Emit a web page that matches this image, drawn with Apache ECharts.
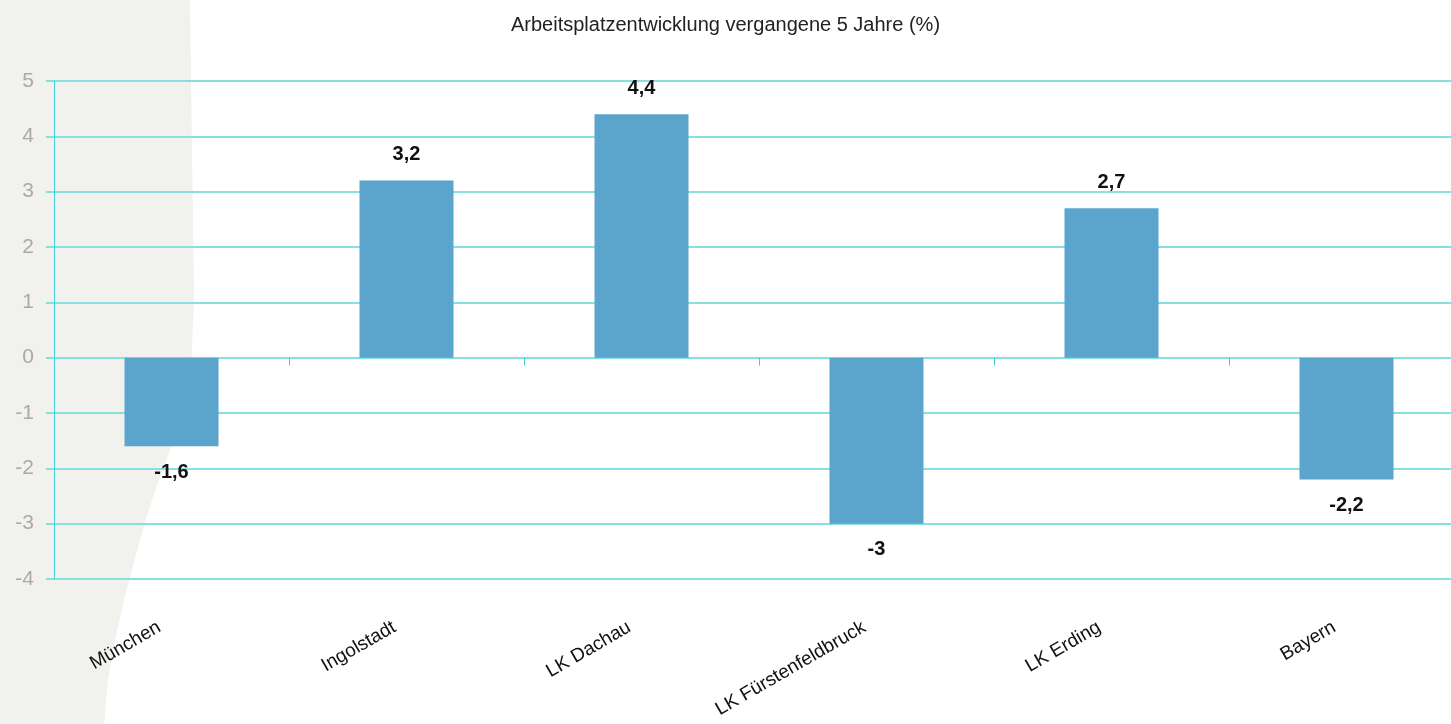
<!DOCTYPE html>
<html lang="de">

<head>
    <meta charset="UTF-8" />
    <title>Arbeitsplatzentwicklung</title>
    <script src="https://cdn.jsdelivr.net/npm/echarts@6/dist/echarts.min.js"></script>
    <style>
        html, body { margin: 0; padding: 0; background: #fff; }
        #chart { width: 1451px; height: 724px; }
    </style>
</head>

<body>
    <div id="chart"></div>
    <script>
        // Daten
        var regionen = ["München", "Ingolstadt", "LK Dachau", "LK Fürstenfeldbruck", "LK Erding", "Bayern"];
        var werte = [-1.6, 3.2, 4.4, -3, 2.7, -2.2];
        var titel = "Arbeitsplatzentwicklung vergangene 5 Jahre (%)";

        var schmal = "'Liberation Sans Narrow', 'Arial Narrow', 'Liberation Sans', Arial, sans-serif";
        var linie = "#86e0e0";

        var myChart = echarts.init(document.getElementById("chart"));
        var option = {
            backgroundColor: "#fff",
            animation: false,
            // grauer Hintergrund links
            graphic: [{
                type: "polygon",
                z: -10,
                silent: true,
                shape: {
                    points: [[0, 0], [190, 0], [192, 150], [194, 300], [191, 370], [183, 415], [170, 450],
                        [156, 488], [145, 522], [134, 562], [124, 600], [115, 640], [108, 680], [104, 724], [0, 724]]
                },
                style: { fill: "#f1f2ee" }
            }],
            title: {
                text: titel,
                left: "center",
                top: 10,
                textStyle: { fontFamily: schmal, fontSize: 20, fontWeight: "normal", color: "#222" }
            },
            // Rechter Rand liegt etwas ausserhalb des Fensters
            grid: { left: 54, width: 1410, top: 81, bottom: 145, containLabel: false, outerBoundsMode: "none" },
            xAxis: [{
                type: "category",
                data: regionen,
                position: "bottom",
                axisLine: { show: false, onZero: false },
                axisTick: { show: false },
                axisLabel: {
                    rotate: 30,
                    interval: 0,
                    margin: 40,
                    padding: [0, 14, 0, 0],
                    fontFamily: schmal,
                    fontSize: 19,
                    color: "#111"
                }
            }, {
                type: "category",
                data: regionen,
                position: "bottom",
                axisLine: { show: true, onZero: true, lineStyle: { color: linie, width: 2 } },
                axisTick: { show: true, length: 8, lineStyle: { color: "#3fd2d2", width: 1 } },
                axisLabel: { show: false }
            }],
            yAxis: {
                type: "value",
                min: -4,
                max: 5,
                interval: 1,
                axisLine: { show: true, lineStyle: { color: "#3fd2d2", width: 1 } },
                axisTick: { show: true, length: 8, lineStyle: { color: linie, width: 2 } },
                axisLabel: { fontFamily: schmal, fontSize: 21, color: "#aaa", margin: 20 },
                splitLine: { lineStyle: { color: linie, width: 2 } }
            },
            series: [{
                type: "bar",
                xAxisIndex: 0,
                barWidth: "40%",
                itemStyle: { color: "#5ba4cb" },
                label: {
                    show: true,
                    position: "top",
                    distance: 16,
                    fontFamily: schmal,
                    fontSize: 20,
                    fontWeight: "bold",
                    color: "#111",
                    formatter: function (p) {
                        return String(p.value).replace(".", ",");
                    }
                },
                // negative Werte: Beschriftung unterhalb
                data: werte.map(function (v) {
                    return v < 0 ? { value: v, label: { position: "bottom" } } : v;
                })
            }]
        };
        myChart.setOption(option);
    </script>
</body>

</html>
